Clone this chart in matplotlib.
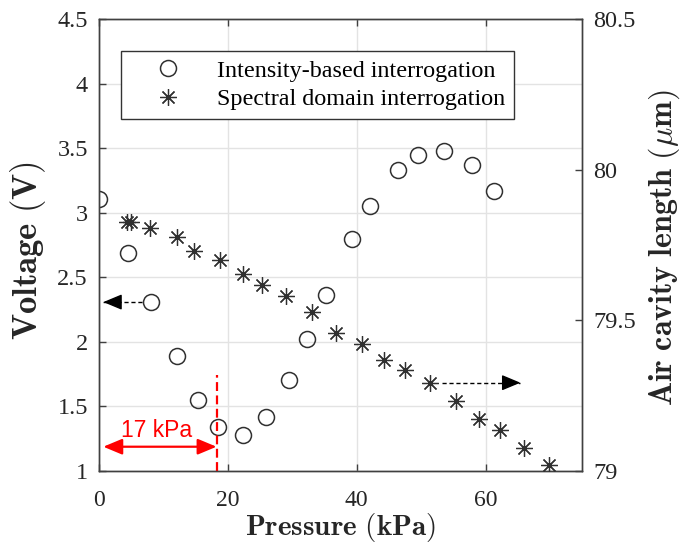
import matplotlib
matplotlib.use("Agg")
import matplotlib.pyplot as plt
from matplotlib.lines import Line2D
from matplotlib.font_manager import FontProperties

# ---------------- data ----------------
p_int = [0.0, 4.54, 8.02, 12.14, 15.35, 18.40, 22.37, 25.84, 29.41, 32.25,
         35.30, 39.30, 42.12, 46.40, 49.57, 53.60, 57.94, 61.35]
v_int = [3.109, 2.688, 2.308, 1.891, 1.550, 1.343, 1.281, 1.419, 1.703, 2.021,
         2.359, 2.793, 3.054, 3.328, 3.447, 3.478, 3.372, 3.165]

p_spec = [4.29, 4.91, 7.91, 12.05, 14.81, 18.76, 22.37, 25.22, 28.95, 33.07,
          36.74, 40.78, 44.23, 47.49, 51.32, 55.35, 58.96, 62.17, 66.00, 69.81]
l_spec = [79.825, 79.827, 79.805, 79.778, 79.730, 79.700, 79.654, 79.617, 79.582, 79.528,
          79.457, 79.421, 79.368, 79.335, 79.293, 79.232, 79.173, 79.136, 79.077, 79.020]

x_ticks = [0, 20, 40, 60]
x_ticklabels = ['0', '20', '40', '60']
v_ticks = [1, 1.5, 2, 2.5, 3, 3.5, 4, 4.5]
v_ticklabels = ['1', '1.5', '2', '2.5', '3', '3.5', '4', '4.5']
l_ticks = [79, 79.5, 80, 80.5]
l_ticklabels = ['79', '79.5', '80', '80.5']

legend_labels = ['Intensity-based interrogation', 'Spectral domain interrogation']
range_label = '17 kPa'
range_end = 18.24   # kPa, end of linear range marker

# ---------------- style ----------------
plt.rcParams['font.family'] = 'serif'
plt.rcParams['font.serif'] = ['Liberation Serif', 'DejaVu Serif']
plt.rcParams['mathtext.fontset'] = 'cm'

axcol = '#404040'
mcol = '#303030'
txtcol = '#262626'

fig = plt.figure(figsize=(6.81, 5.5), dpi=100)
ax = fig.add_axes([0.14537, 0.14364, 0.7097, 0.8218])
ax2 = ax.twinx()

ax.set_xlim(0, 75)
ax.set_ylim(1, 4.5)
ax2.set_ylim(79, 80.5)

ax.set_xticks(x_ticks)
ax.set_xticklabels(x_ticklabels)
ax.set_yticks(v_ticks)
ax.set_yticklabels(v_ticklabels)
ax2.set_yticks(l_ticks)
ax2.set_yticklabels(l_ticklabels)

ax.grid(True, color='#e3e3e3', linewidth=1.0)
ax.set_axisbelow(True)

ax.tick_params(axis='x', direction='in', length=5, width=1, color=axcol,
               labelsize=17, pad=14, top=True, labelcolor=txtcol)
ax.tick_params(axis='y', direction='in', length=5, width=1, color=axcol,
               labelsize=17.5, pad=8, right=False, labelcolor=txtcol)
ax2.tick_params(axis='y', direction='in', length=5, width=1, color=axcol,
                labelsize=17.5, pad=8, labelcolor=txtcol)
for a in (ax, ax2):
    for s in a.spines.values():
        s.set_color(axcol)
        s.set_linewidth(1.0)

ax.plot(p_int, v_int, linestyle='none', marker='o', markersize=11.5,
        markerfacecolor='none', markeredgecolor=mcol, markeredgewidth=1.1, zorder=3)
ax2.plot(p_spec, l_spec, linestyle='none', marker=(8, 2, 0), markersize=12,
         color=mcol, markeredgewidth=0.9, zorder=3)

# dashed axis-indicating arrows (dashed shaft + solid head)
def dashed_arrow(a, x_tail, x_tip, y):
    a.plot([x_tail, x_tip], [y, y], color='k', lw=1, linestyle=(0, (3, 2)), zorder=4)
    a.annotate('', xy=(x_tip, y), xytext=(x_tip + 0.6 * (x_tail - x_tip) / abs(x_tail - x_tip), y),
               arrowprops=dict(arrowstyle='-|>,head_length=1.15,head_width=0.48',
                               color='k', lw=1, shrinkA=0, shrinkB=0, mutation_scale=10),
               zorder=4)

dashed_arrow(ax, 6.6, 0.67, v_int[2])
dashed_arrow(ax2, 53.3, 65.4, l_spec[14])

# red range marker
ax.plot([range_end, range_end], [1.0, 1.744], color='#ff0000', lw=1.6,
        linestyle=(0, (4, 2)), zorder=4)
ax.annotate('', xy=(0.67, 1.188), xytext=(range_end, 1.188),
            arrowprops=dict(arrowstyle='<|-|>,head_length=1.15,head_width=0.48',
                            color='#ff0000', lw=1.6, shrinkA=0, shrinkB=0,
                            mutation_scale=10), zorder=4)
ax.text(9.0, 1.31, range_label, color='#ff0000', fontsize=16.5,
        family='Liberation Sans', ha='center', va='center', zorder=4)

# labels
ax.set_xlabel(r'$\mathbf{Pressure\ (kPa)}$', fontsize=21, color=txtcol)
ax.xaxis.set_label_coords(0.5, -0.126)
ax.xaxis.label.set_va('center')
ax.set_ylabel(r'$\mathbf{Voltage\ (V)}$', fontsize=25, color=txtcol)
ax.yaxis.set_label_coords(-0.146, 0.487)
ax.yaxis.label.set_va('center')
ax2.set_ylabel(r'$\mathbf{Air\ cavity\ length\ (}\mu\mathbf{m)}$', fontsize=23, color=txtcol)
ax2.yaxis.set_label_coords(1.169, 0.493)
ax2.yaxis.label.set_va('center')

# legend
h1 = Line2D([], [], linestyle='none', marker='o', markersize=11.5,
            markerfacecolor='none', markeredgecolor=mcol, markeredgewidth=1.1)
h2 = Line2D([], [], linestyle='none', marker=(8, 2, 0), markersize=12,
            color=mcol, markeredgewidth=0.9)
leg = ax2.legend([h1, h2], legend_labels, loc='upper left',
                 bbox_to_anchor=(121 / 681, 1 - 51 / 550), bbox_transform=fig.transFigure,
                 prop=FontProperties(family='Liberation Serif', size=17.4),
                 frameon=True, fancybox=False, framealpha=1, edgecolor='#333333',
                 borderpad=0.36, handlelength=3.2, handletextpad=0.4,
                 labelspacing=0.28, borderaxespad=0, numpoints=1)
leg.get_frame().set_linewidth(1.0)

fig.savefig('out.png', dpi=100)
